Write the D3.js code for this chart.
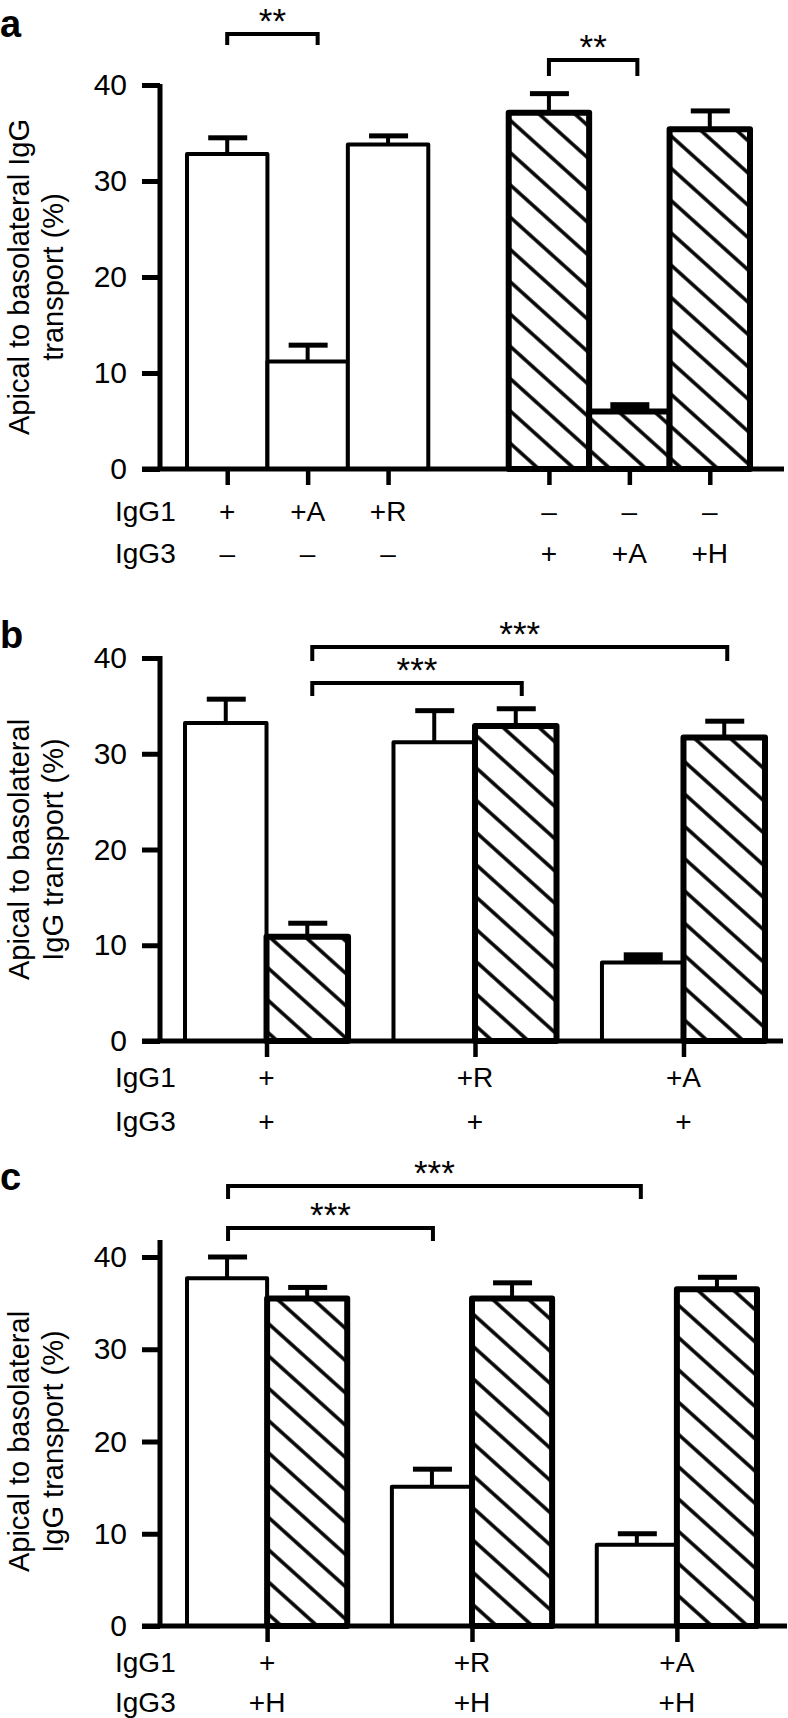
<!DOCTYPE html>
<html>
<head>
<meta charset="utf-8">
<script src="https://cdn.jsdelivr.net/npm/d3@7"></script>
<style>
  body { margin: 0; background: #fff; }
  svg { display: block; font-family: "Liberation Sans", Arial, Helvetica, sans-serif; }
</style>
</head>
<body>
<svg id="chart" width="788" height="1718"></svg>
<script>
// panel a: single bars, IgG1 alone then IgG3 alone
var aIgG1 = ["+", "+A", "+R", "\u2013", "\u2013", "\u2013"];
var aIgG3 = ["\u2013", "\u2013", "\u2013", "+", "+A", "+H"];
var aValues = [32.8, 11.2, 33.8, 37.1, 6.0, 35.4];
var aErrors = [1.7, 1.7, 0.9, 2.0, 0.7, 1.9];
var aHatched = [false, false, false, true, true, true];

// panel b: open bar = IgG1, hatched bar = IgG3
var bIgG1 = ["+", "+R", "+A"];
var bIgG3 = ["+", "+", "+"];
var bOpen = [33.2, 31.2, 8.2];
var bOpenErr = [2.5, 3.3, 0.8];
var bHatch = [10.9, 32.9, 31.7];
var bHatchErr = [1.4, 1.8, 1.7];

// panel c
var cIgG1 = ["+", "+R", "+A"];
var cIgG3 = ["+H", "+H", "+H"];
var cOpen = [37.7, 15.1, 8.8];
var cOpenErr = [2.3, 1.9, 1.2];
var cHatch = [35.5, 35.5, 36.5];
var cHatchErr = [1.2, 1.7, 1.3];

var yTicks = [0, 10, 20, 30, 40];
var rowNames = ["IgG1", "IgG3"];

// significance brackets (bar indices within each panel)
var aSig = [{ from: 0, to: 1, text: "**" }, { from: 3, to: 4, text: "**" }];
var bSig = [{ from: 1, to: 5, text: "***" }, { from: 1, to: 3, text: "***" }];
var cSig = [{ from: 0, to: 4, text: "***" }, { from: 0, to: 2, text: "***" }];

var svg = d3.select("#chart");

var defs = svg.append("defs");
var pat = defs.append("pattern")
    .attr("id", "hatch")
    .attr("patternUnits", "userSpaceOnUse")
    .attr("width", 24)
    .attr("height", 24)
    .attr("patternTransform", "rotate(42)");
pat.append("rect").attr("width", 24).attr("height", 24).attr("fill", "#fff");
pat.append("line").attr("x1", 0).attr("x2", 24).attr("y1", 12).attr("y2", 12)
    .attr("stroke", "#000").attr("stroke-width", 3.5);

function buildSingle(values, errs, hatched, l1, l2, range) {
    // 7 slots, the 4th one left empty as a gap
    var x = d3.scaleBand().domain(d3.range(7)).range(range).padding(0);
    return values.map(function(v, i) {
        var s = i < 3 ? i : i + 1;
        return { value: v, err: errs[i], hatched: hatched[i], x: x(s), w: x.bandwidth(),
                 tick: true, l1: l1[i], l2: l2[i] };
    });
}

function buildPairs(open, openErr, hatch, hatchErr, l1, l2, range) {
    var gx = d3.scaleBand().domain(d3.range(open.length)).range(range)
        .paddingInner(0.218).paddingOuter(0);
    var sx = d3.scaleBand().domain(["open", "hatch"]).range([0, gx.bandwidth()]);
    var bars = [];
    open.forEach(function(v, i) {
        bars.push({ value: v, err: openErr[i], hatched: false, x: gx(i) + sx("open"), w: sx.bandwidth() });
        bars.push({ value: hatch[i], err: hatchErr[i], hatched: true, x: gx(i) + sx("hatch"), w: sx.bandwidth(),
                    tick: true, tickX: gx(i) + gx.bandwidth() / 2, l1: l1[i], l2: l2[i] });
    });
    return bars;
}

function drawPanel(p) {
    var g = svg.append("g");
    var y = d3.scaleLinear().domain([0, 40]).range([p.y0, p.y40]);
    var bars = p.bars;
    bars.forEach(function(d) { d.cx = d.x + d.w / 2; if (d.tickX == null) d.tickX = d.cx; });

    // panel letter
    g.append("text").attr("x", 0).attr("y", p.letterY)
        .attr("font-size", 38).attr("font-weight", "bold").text(p.letter);

    // y axis title, two lines
    p.title.forEach(function(t, i) {
        g.append("text")
            .attr("transform", "translate(" + (29 + i * 34) + "," + ((p.y0 + p.y40) / 2) + ") rotate(-90)")
            .attr("text-anchor", "middle").attr("font-size", 29).text(t);
    });

    // bars: open ones first so the thick hatched outlines sit on top
    var sorted = bars.slice().sort(function(a, b) { return a.hatched - b.hatched; });
    g.selectAll(".bar").data(sorted).enter().append("rect")
        .attr("x", d => d.x)
        .attr("width", d => d.w)
        .attr("y", d => y(d.value))
        .attr("height", d => p.y0 - y(d.value))
        .attr("fill", d => d.hatched ? "url(#hatch)" : "#fff")
        .attr("stroke", "#000")
        .attr("stroke-linejoin", "round")
        .attr("stroke-width", d => d.hatched ? 6 : 4);

    // error bars (upper only); a very short one merges into a solid block
    g.selectAll(".stem").data(bars).enter().append("line")
        .attr("x1", d => d.cx).attr("x2", d => d.cx)
        .attr("y1", d => y(d.value)).attr("y2", d => y(d.value + d.err))
        .attr("stroke", "#000").attr("stroke-width", 4);
    g.selectAll(".cap").data(bars).enter().append("rect")
        .attr("x", d => d.cx - 19)
        .attr("width", 39)
        .attr("y", d => y(d.value + d.err) - 2.5)
        .attr("height", function(d) {
            var gap = y(d.value) - y(d.value + d.err);
            return gap < 8 ? gap + 2.5 : 5;
        })
        .attr("fill", "#000");

    // y axis
    var yAxis = g.append("g").attr("transform", "translate(160,0)")
        .call(d3.axisLeft(y).tickValues(yTicks).tickSize(18).tickPadding(15));
    yAxis.select(".domain").remove();
    yAxis.selectAll(".tick line").attr("stroke-width", 5);
    yAxis.selectAll(".tick text").attr("font-size", 30).attr("font-family", null).attr("fill", "#000");
    g.append("line").attr("x1", 160).attr("x2", 160).attr("y1", p.y0).attr("y2", p.yTop)
        .attr("stroke", "#000").attr("stroke-width", 5);

    // x axis line and ticks
    g.append("line").attr("x1", 142).attr("x2", p.xRight).attr("y1", p.y0).attr("y2", p.y0)
        .attr("stroke", "#000").attr("stroke-width", 5);
    var tickBars = bars.filter(d => d.tick);
    var tx = d3.scaleOrdinal().domain(d3.range(tickBars.length)).range(tickBars.map(d => d.tickX));
    var xAxis = g.append("g").attr("transform", "translate(0," + p.y0 + ")")
        .call(d3.axisBottom(tx).tickSize(16).tickFormat(""));
    xAxis.select(".domain").remove();
    xAxis.selectAll(".tick line").attr("stroke-width", 4.5);

    // condition rows
    rowNames.forEach(function(name, r) {
        g.append("text").attr("x", 115).attr("y", p.rows[r]).attr("font-size", 28).text(name);
        g.selectAll(".row" + r).data(tickBars).enter().append("text")
            .attr("x", d => d.tickX).attr("y", p.rows[r])
            .attr("text-anchor", "middle").attr("font-size", 28)
            .text(d => r === 0 ? d.l1 : d.l2);
    });

    // significance brackets
    p.sig.forEach(function(s, i) {
        var x1 = bars[s.from].cx + p.sigNudge[i][0], x2 = bars[s.to].cx + p.sigNudge[i][1];
        var by = p.sigY[i], leg = p.sigLeg[i];
        g.append("path")
            .attr("d", "M" + x1 + "," + (by + leg) + "V" + by + "H" + x2 + "V" + (by + leg))
            .attr("fill", "none").attr("stroke", "#000").attr("stroke-width", 4);
        g.append("text").attr("x", (x1 + x2) / 2).attr("y", by - 1)
            .attr("text-anchor", "middle").attr("font-size", 35).text(s.text);
    });
}

drawPanel({
    letter: "a", letterY: 37,
    title: ["Apical to basolateral IgG", "transport (%)"],
    y0: 469, y40: 85, yTop: 84, xRight: 784,
    rows: [521, 563],
    bars: buildSingle(aValues, aErrors, aHatched, aIgG1, aIgG3, [187, 750]),
    sig: aSig, sigY: [34, 60], sigLeg: [11, 16], sigNudge: [[0, 10], [0, 8]]
});

drawPanel({
    letter: "b", letterY: 648,
    title: ["Apical to basolateral", "IgG transport (%)"],
    y0: 1041, y40: 658, yTop: 656, xRight: 783,
    rows: [1087, 1131],
    bars: buildPairs(bOpen, bOpenErr, bHatch, bHatchErr, bIgG1, bIgG3, [185, 765]),
    sig: bSig, sigY: [647, 683], sigLeg: [14, 13], sigNudge: [[5, 3], [5, 6]]
});

drawPanel({
    letter: "c", letterY: 1190,
    title: ["Apical to basolateral", "IgG transport (%)"],
    y0: 1626, y40: 1257, yTop: 1240, xRight: 787,
    rows: [1672, 1712],
    bars: buildPairs(cOpen, cOpenErr, cHatch, cHatchErr, cIgG1, cIgG3, [187, 757]),
    sig: cSig, sigY: [1186, 1228], sigLeg: [13, 13], sigNudge: [[1, 4], [1, 1]]
});
</script>
</body>
</html>
